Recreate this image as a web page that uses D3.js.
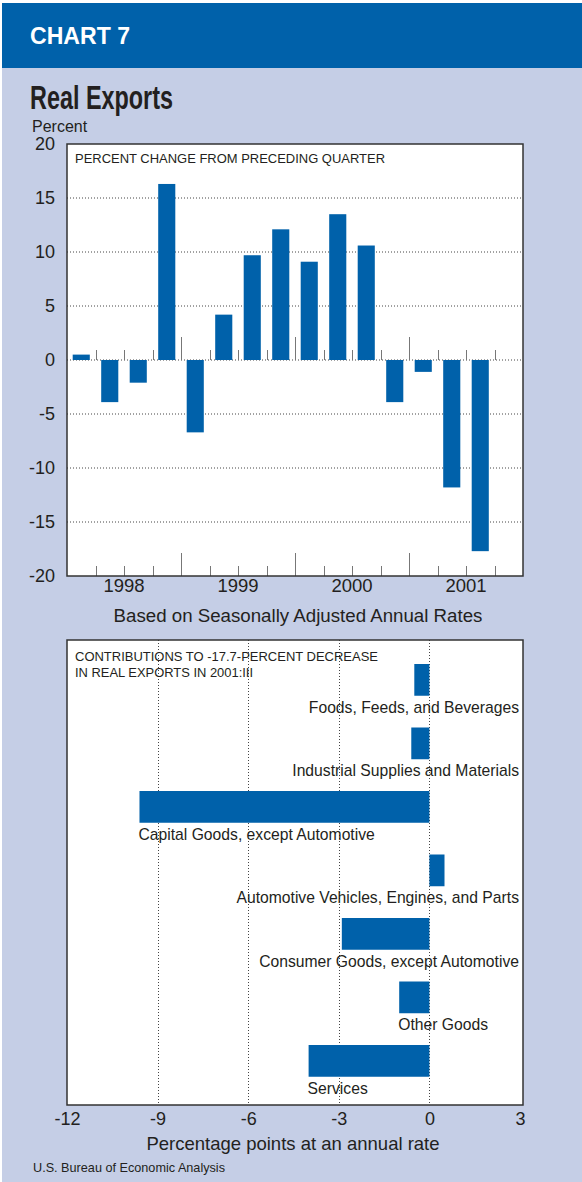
<!DOCTYPE html>
<html>
<head>
<meta charset="utf-8">
<script src="https://cdn.jsdelivr.net/npm/d3@7"></script>
<style>
  body { margin: 0; background: #fff; }
  text { font-family: "Liberation Sans", Arial, Helvetica, sans-serif; fill: #231f20; }
</style>
</head>
<body>
<div id="container"></div>
<script>
const WIDTH = 582;
const HEIGHT = 1182;
const BLUE = '#0061aa';
const LAVENDER = '#c5cee6';

// data
const quarters = ['1998:I', '1998:II', '1998:III', '1998:IV',
                  '1999:I', '1999:II', '1999:III', '1999:IV',
                  '2000:I', '2000:II', '2000:III', '2000:IV',
                  '2001:I', '2001:II', '2001:III', '2001:IV'];
const quarterValues = [0.5, -3.9, -2.1, 16.3, -6.7, 4.2, 9.7, 12.1,
                       9.1, 13.5, 10.6, -3.9, -1.1, -11.8, -17.7];
const years = ['1998', '1999', '2000', '2001'];
const percentTicks = [-20, -15, -10, -5, 0, 5, 10, 15, 20];

const categories = ['Foods, Feeds, and Beverages',
                    'Industrial Supplies and Materials',
                    'Capital Goods, except Automotive',
                    'Automotive Vehicles, Engines, and Parts',
                    'Consumer Goods, except Automotive',
                    'Other Goods',
                    'Services'];
const contributions = [-0.5, -0.6, -9.6, 0.5, -2.9, -1.0, -4.0];
const pointTicks = [-12, -9, -6, -3, 0, 3];

const svg = d3.select('#container')
              .append('svg')
                .attr('width', WIDTH)
                .attr('height', HEIGHT);

// page background + header band
svg.append('rect')
     .attr('x', 2).attr('y', 3)
     .attr('width', WIDTH - 2).attr('height', HEIGHT - 3)
     .attr('fill', LAVENDER);
svg.append('rect')
     .attr('x', 2).attr('y', 3)
     .attr('width', WIDTH - 2).attr('height', 65)
     .attr('fill', BLUE);

svg.append('text')
     .attr('x', 30).attr('y', 44)
     .attr('textLength', 100).attr('lengthAdjust', 'spacingAndGlyphs')
     .style('font-size', '24px').style('font-weight', 'bold')
     .style('fill', '#fff')
     .text('CHART 7');

svg.append('text')
     .attr('x', 30).attr('y', 109)
     .attr('textLength', 143).attr('lengthAdjust', 'spacingAndGlyphs')
     .style('font-size', '34px').style('font-weight', 'bold')
     .text('Real Exports');

svg.append('text')
     .attr('x', 32).attr('y', 132)
     .style('font-size', '16px')
     .text('Percent');

// ---------- top chart ----------
const upper = { x0: 67, x1: 523, y0: 144, y1: 576 };

const xq = d3.scaleBand()
             .domain(quarters)
             .range([upper.x0, upper.x1])
             .paddingInner(0.4)
             .paddingOuter(0.2);

const xyear = d3.scaleBand()
                .domain(years)
                .range([upper.x0, upper.x1]);

const yscale = d3.scaleLinear()
                 .domain([-20, 20])
                 .range([upper.y1, upper.y0]);

svg.append('rect')
     .attr('x', upper.x0).attr('y', upper.y0)
     .attr('width', upper.x1 - upper.x0).attr('height', upper.y1 - upper.y0)
     .attr('fill', '#fff');

// dotted grid
svg.append('g')
   .selectAll('line')
   .data(percentTicks.filter(d => d > -20 && d < 20))
   .enter()
   .append('line')
     .attr('x1', upper.x0).attr('x2', upper.x1)
     .attr('y1', d => yscale(d)).attr('y2', d => yscale(d))
     .attr('stroke', '#444')
     .attr('stroke-width', 1)
     .attr('stroke-dasharray', '1,2');

// quarter ticks at zero line and bottom
const boundaries = d3.range(1, quarters.length)
                     .map(i => ({ x: upper.x0 + i * xq.step(), year: i % 4 === 0 }));
[yscale(0), upper.y1].forEach(base => {
    svg.append('g')
       .selectAll('line')
       .data(boundaries)
       .enter()
       .append('line')
         .attr('x1', d => Math.round(d.x) + 0.5).attr('x2', d => Math.round(d.x) + 0.5)
         .attr('y1', base)
         .attr('y2', d => base - (d.year ? 23 : 10))
         .attr('stroke', '#777')
         .attr('stroke-width', 1);
});

svg.append('g')
   .selectAll('rect')
   .data(quarterValues)
   .enter()
   .append('rect')
     .attr('x', (d, i) => xq(quarters[i]))
     .attr('width', xq.bandwidth())
     .attr('y', d => yscale(Math.max(0, d)))
     .attr('height', d => Math.abs(yscale(d) - yscale(0)))
     .attr('fill', BLUE);

svg.append('rect')
     .attr('x', upper.x0).attr('y', upper.y0)
     .attr('width', upper.x1 - upper.x0).attr('height', upper.y1 - upper.y0)
     .attr('fill', 'none')
     .attr('stroke', '#333')
     .attr('stroke-width', 1.5);

svg.append('text')
     .attr('x', 75).attr('y', 163)
     .attr('textLength', 310).attr('lengthAdjust', 'spacingAndGlyphs')
     .style('font-size', '13.5px')
     .text('PERCENT CHANGE FROM PRECEDING QUARTER');

const axisLeft = d3.axisLeft(yscale)
                   .tickValues(percentTicks)
                   .tickSize(0)
                   .tickPadding(12)
                   .tickFormat(d => String(d));
svg.append('g')
     .attr('transform', `translate(${upper.x0}, 0)`)
     .call(axisLeft)
     .call(g => g.select('.domain').remove())
     .call(g => g.selectAll('text')
                 .style('font-size', '18px')
                 .style('font-family', null)
                 .attr('fill', null));

const axisYears = d3.axisBottom(xyear).tickSize(0).tickPadding(3);
svg.append('g')
     .attr('transform', `translate(0, ${upper.y1})`)
     .call(axisYears)
     .call(g => g.select('.domain').remove())
     .call(g => g.selectAll('text')
                 .style('font-size', '18.5px')
                 .style('font-family', null)
                 .attr('fill', null));

svg.append('text')
     .attr('x', 298).attr('y', 622)
     .attr('text-anchor', 'middle')
     .style('font-size', '18.7px')
     .text('Based on Seasonally Adjusted Annual Rates');

// ---------- bottom chart ----------
const lower = { x0: 67, x1: 523, y0: 640, y1: 1105 };

const xscale = d3.scaleLinear()
                 .domain([-12, 3])
                 .range([lower.x0, 520]);

const yband = d3.scaleBand()
                .domain(categories)
                .range([664, 664 + 63.5 * 6.5])
                .paddingInner(0.5)
                .paddingOuter(0);

svg.append('rect')
     .attr('x', lower.x0).attr('y', lower.y0)
     .attr('width', lower.x1 - lower.x0).attr('height', lower.y1 - lower.y0)
     .attr('fill', '#fff');

svg.append('g')
   .selectAll('line')
   .data(pointTicks.filter(d => d > -12 && d < 3))
   .enter()
   .append('line')
     .attr('x1', d => Math.round(xscale(d)) + 0.5).attr('x2', d => Math.round(xscale(d)) + 0.5)
     .attr('y1', lower.y0).attr('y2', lower.y1)
     .attr('stroke', '#444')
     .attr('stroke-width', 1)
     .attr('stroke-dasharray', '1,2');

svg.append('g')
   .selectAll('rect')
   .data(contributions)
   .enter()
   .append('rect')
     .attr('x', d => xscale(Math.min(0, d)))
     .attr('width', d => Math.abs(xscale(d) - xscale(0)))
     .attr('y', (d, i) => yband(categories[i]))
     .attr('height', yband.bandwidth())
     .attr('fill', BLUE);

// category labels: start at the bar's left edge if they fit, else flush right
const labels = svg.append('g')
   .selectAll('text')
   .data(contributions)
   .enter()
   .append('text')
     .attr('y', (d, i) => yband(categories[i]) + yband.bandwidth() + 17)
     .style('font-size', '15.7px')
     .text((d, i) => categories[i]);

labels.each(function(d) {
    const w = this.getComputedTextLength();
    const left = xscale(Math.min(0, d)) - 1;
    const el = d3.select(this);
    if (left + w <= lower.x1 - 4) {
        el.attr('x', left).attr('text-anchor', 'start');
    } else {
        el.attr('x', lower.x1 - 4).attr('text-anchor', 'end');
    }
});

svg.append('rect')
     .attr('x', lower.x0).attr('y', lower.y0)
     .attr('width', lower.x1 - lower.x0).attr('height', lower.y1 - lower.y0)
     .attr('fill', 'none')
     .attr('stroke', '#333')
     .attr('stroke-width', 1.5);

svg.append('text')
     .attr('x', 75).attr('y', 661)
     .attr('textLength', 303).attr('lengthAdjust', 'spacingAndGlyphs')
     .style('font-size', '13.5px')
     .text('CONTRIBUTIONS TO -17.7-PERCENT DECREASE');
svg.append('text')
     .attr('x', 75).attr('y', 677)
     .attr('textLength', 178).attr('lengthAdjust', 'spacingAndGlyphs')
     .style('font-size', '13.5px')
     .text('IN REAL EXPORTS IN 2001:III');

const axisBottom = d3.axisBottom(xscale)
                     .tickValues(pointTicks)
                     .tickSize(0)
                     .tickPadding(7)
                     .tickFormat(d => String(d));
svg.append('g')
     .attr('transform', `translate(0, ${lower.y1})`)
     .call(axisBottom)
     .call(g => g.select('.domain').remove())
     .call(g => g.selectAll('text')
                 .style('font-size', '18px')
                 .style('font-family', null)
                 .attr('fill', null));

svg.append('text')
     .attr('x', 293).attr('y', 1150)
     .attr('text-anchor', 'middle')
     .style('font-size', '18.5px')
     .text('Percentage points at an annual rate');

svg.append('text')
     .attr('x', 33).attr('y', 1172)
     .attr('textLength', 192).attr('lengthAdjust', 'spacingAndGlyphs')
     .style('font-size', '13px')
     .text('U.S. Bureau of Economic Analysis');
</script>
</body>
</html>
